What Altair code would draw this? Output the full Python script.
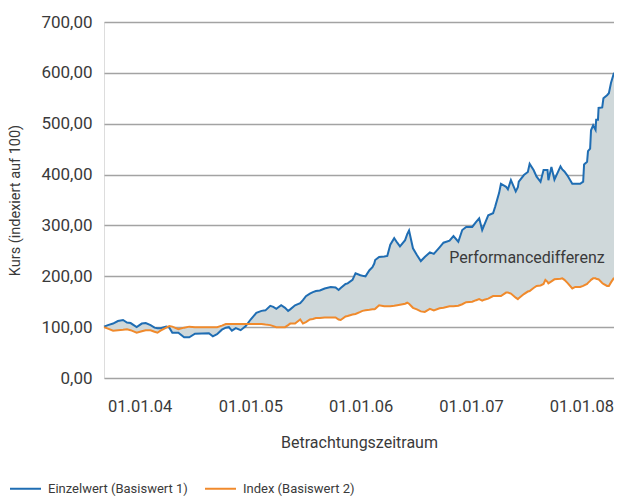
import altair as alt
import pandas as pd

FONT = "Roboto, sans-serif"
TEXT = "#3a3a3a"

dates = [
    "2003-09-05", "2003-09-18", "2003-10-05", "2003-10-21", "2003-11-07", "2003-11-20",
    "2003-12-02", "2003-12-22", "2004-01-08", "2004-01-21", "2004-02-06", "2004-02-19",
    "2004-02-29", "2004-03-10", "2004-03-29", "2004-04-08", "2004-04-18", "2004-05-08",
    "2004-05-27", "2004-06-13", "2004-07-02", "2004-08-17", "2004-08-30", "2004-09-13",
    "2004-09-29", "2004-10-12", "2004-10-22", "2004-11-01", "2004-11-14", "2004-11-30",
    "2004-12-17", "2005-01-02", "2005-01-21", "2005-02-07", "2005-02-20", "2005-03-08",
    "2005-03-18", "2005-03-28", "2005-04-13", "2005-04-26", "2005-05-06", "2005-05-13",
    "2005-05-29", "2005-06-15", "2005-06-24", "2005-07-04", "2005-07-17", "2005-07-27",
    "2005-08-06", "2005-08-19", "2005-09-04", "2005-09-24", "2005-10-10", "2005-10-20",
    "2005-10-27", "2005-11-12", "2005-11-19", "2005-12-05", "2005-12-15", "2005-12-31",
    "2006-01-07", "2006-01-17", "2006-01-30", "2006-02-09", "2006-02-15", "2006-02-18",
    "2006-03-03", "2006-03-20", "2006-03-30", "2006-04-09", "2006-04-22", "2006-05-02",
    "2006-05-11", "2006-05-28", "2006-06-04", "2006-06-10", "2006-06-23", "2006-07-06",
    "2006-07-19", "2006-08-01", "2006-08-18", "2006-08-31", "2006-09-19", "2006-10-02",
    "2006-10-22", "2006-11-04", "2006-11-20", "2006-12-03", "2006-12-16", "2007-01-05",
    "2007-01-18", "2007-01-28", "2007-02-07", "2007-02-14", "2007-02-27", "2007-03-15",
    "2007-03-22", "2007-04-04", "2007-04-10", "2007-04-27", "2007-05-03", "2007-05-13",
    "2007-05-29", "2007-06-05", "2007-06-08", "2007-06-25", "2007-07-08", "2007-07-14",
    "2007-07-27", "2007-08-06", "2007-08-19", "2007-08-29", "2007-09-04", "2007-09-11",
    "2007-09-14", "2007-09-24", "2007-10-04", "2007-10-24", "2007-10-30", "2007-11-06",
    "2007-11-16", "2007-12-02", "2007-12-12", "2007-12-28", "2008-01-07", "2008-01-10",
    "2008-01-20", "2008-01-23", "2008-01-30", "2008-02-02", "2008-02-09", "2008-02-17",
    "2008-02-19", "2008-02-25", "2008-02-27", "2008-03-10", "2008-03-14", "2008-03-26",
    "2008-04-01", "2008-04-08", "2008-04-18",
]

einzelwert = [
    101, 104, 107, 112, 114, 109,
    108, 100, 107, 108, 104, 99,
    98, 98, 101, 99, 89, 89,
    80, 80, 87, 88, 82, 86,
    95, 99, 100, 93, 98, 94,
    102, 115, 128, 132, 133, 142,
    140, 136, 143, 138, 132, 135,
    143, 147, 153, 161, 166, 169,
    171, 172, 176, 179, 178, 173,
    177, 185, 186, 193, 206, 202,
    201, 200, 212, 218, 225, 232,
    238, 239, 240, 262, 275, 266,
    259, 271, 283, 290, 255, 242,
    230, 238, 247, 244, 257, 266,
    270, 279, 268, 291, 297, 297,
    307, 314, 291, 301, 320, 324,
    337, 364, 382, 376, 371, 389,
    367, 375, 386, 399, 405, 421,
    409, 396, 386, 409, 409, 409,
    389, 415, 390, 416, 410, 406,
    398, 382, 382, 382, 386, 420,
    425, 446, 451, 487, 497, 488,
    508, 508, 531, 532, 550, 556,
    560, 580, 600,
]

index_werte = [
    100, 97, 93, 94, 95, 96,
    94, 89, 92, 94, 94, 91,
    89, 93, 99, 102, 101, 96,
    99, 101, 100, 100, 100, 100,
    103, 106, 106, 106, 106, 106,
    106, 106, 106, 106, 105, 104,
    102, 100, 100, 100, 104, 107,
    107, 115, 107, 110, 115, 116,
    118, 118, 119, 119, 119, 115,
    114, 121, 122, 125, 126, 130,
    132, 133, 134, 135, 135, 136,
    143, 141, 141, 141, 142, 143,
    144, 146, 148, 146, 138, 135,
    131, 130, 136, 133, 137, 138,
    141, 141, 142, 145, 149, 150,
    153, 155, 152, 154, 156, 161,
    161, 161, 161, 168, 168, 166,
    158, 155, 157, 165, 170, 171,
    177, 181, 182, 185, 193, 189,
    186, 190, 194, 195, 196, 193,
    187, 176, 179, 179, 181, 182,
    185, 187, 191, 193, 196, 196,
    195, 194, 194, 187, 185, 181,
    181, 188, 197,
]

series_names = ["Einzelwert (Basiswert 1)", "Index (Basiswert 2)"]
series_colors = ["#1f6db3", "#f08a2c"]
y_ticks = [0, 100, 200, 300, 400, 500, 600, 700]
x_tick_years = [2004, 2005, 2006, 2007, 2008]
annotation_text = "Performancedifferenz"
annotation_date = "2007-07-05"
annotation_value = 236

wide = pd.DataFrame({"date": dates, "e": einzelwert, "i": index_werte})
long = pd.concat([
    pd.DataFrame({"date": dates, "wert": einzelwert, "serie": series_names[0]}),
    pd.DataFrame({"date": dates, "wert": index_werte, "serie": series_names[1]}),
])
ann = pd.DataFrame({"date": [annotation_date], "wert": [annotation_value], "t": [annotation_text]})

x_scale = alt.Scale(type="utc", domain=[alt.DateTime(year=2003, month=9, date=5, utc=True),
                                        alt.DateTime(year=2008, month=4, date=18, utc=True)],
                    nice=False)
y_scale = alt.Scale(domain=[0, 700], nice=False)

x_axis = alt.Axis(
    values=[alt.DateTime(year=y, month=1, date=1, utc=True) for y in x_tick_years],
    labelExpr="utcFormat(datum.value, '%d.%m.%y')", grid=False, domain=False, ticks=False,
    labelPadding=20, labelFontSize=16.5, labelColor=TEXT, labelFont=FONT,
    title="Betrachtungszeitraum", titleFont=FONT, titleFontSize=16, titleColor=TEXT,
    titleFontWeight="normal", titlePadding=20,
)
y_axis = alt.Axis(
    values=y_ticks, labelExpr="replace(format(datum.value, '.2f'), '.', ',')",
    grid=True, gridColor="#a3a3a3", gridWidth=1.5, domain=False, ticks=False,
    labelPadding=12, labelFontSize=17, labelColor=TEXT, labelFont=FONT,
    title="Kurs (indexiert auf 100)", titleFont=FONT, titleFontSize=14.5, titleColor=TEXT,
    titleFontWeight="normal", titlePadding=18,
)

area = alt.Chart(wide).mark_area(color="#cfd8da", opacity=1).encode(
    x=alt.X("date:T", scale=x_scale, axis=x_axis),
    y=alt.Y("e:Q", scale=y_scale, axis=y_axis),
    y2="i:Q",
)

lines = alt.Chart(long).mark_line(strokeWidth=2).encode(
    x=alt.X("date:T", scale=x_scale),
    y=alt.Y("wert:Q", scale=y_scale),
    color=alt.Color("serie:N", scale=alt.Scale(domain=series_names, range=series_colors),
                    legend=alt.Legend(title=None, orient="none", legendX=-95, legendY=450,
                                      direction="horizontal", symbolType="stroke",
                                      symbolSize=961, symbolStrokeWidth=2,
                                      labelFont=FONT, labelFontSize=13, labelColor=TEXT,
                                      labelOffset=6, columnPadding=13, labelLimit=0)),
)

label = alt.Chart(ann).mark_text(font=FONT, fontSize=16, color=TEXT, align="center",
                                  baseline="middle").encode(
    x=alt.X("date:T", scale=x_scale), y=alt.Y("wert:Q", scale=y_scale), text="t:N")

chart = alt.layer(area, lines, label).properties(
    width=510, height=356, autosize="none",
    padding={"left": 96, "top": 14, "right": 0, "bottom": 119},
).configure_view(stroke=None).configure(background="white")

chart.save("out.html", embed_options={"renderer": "svg", "actions": False})
